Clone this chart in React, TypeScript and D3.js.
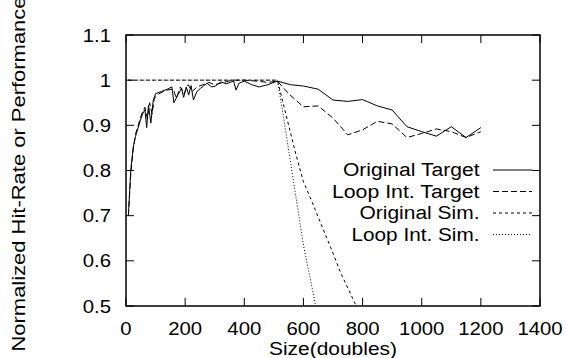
import * as d3 from 'd3';

// sizes (doubles) and normalized values
const origTargetX = [8, 16, 24, 32, 48, 56, 64, 70, 76, 84, 92, 100, 120, 140, 155, 162, 176, 188, 195, 204, 212, 220, 228, 240, 252, 274, 290, 302, 320, 340, 364, 372, 382, 400, 425, 450, 480, 512, 556, 600, 650, 700, 750, 800, 850, 900, 950, 1000, 1050, 1100, 1150, 1200];
const origTargetY = [0.70, 0.80, 0.85, 0.875, 0.91, 0.925, 0.935, 0.895, 0.945, 0.905, 0.955, 0.97, 0.975, 0.98, 0.985, 0.95, 0.968, 0.982, 0.962, 0.985, 0.967, 0.988, 0.956, 0.975, 0.982, 0.993, 0.985, 0.987, 0.996, 0.992, 0.998, 0.978, 0.993, 0.998, 0.99, 0.985, 0.99, 0.998, 0.99, 0.987, 0.98, 0.956, 0.953, 0.957, 0.943, 0.934, 0.897, 0.886, 0.876, 0.897, 0.873, 0.895];

const loopTargetX = [8, 16, 24, 32, 48, 56, 64, 72, 80, 88, 96, 112, 136, 160, 170, 184, 196, 210, 224, 240, 260, 280, 300, 330, 360, 400, 440, 480, 512, 550, 600, 650, 700, 750, 800, 850, 900, 950, 1000, 1050, 1100, 1150, 1200];
const loopTargetY = [0.70, 0.79, 0.845, 0.88, 0.915, 0.93, 0.94, 0.915, 0.95, 0.925, 0.96, 0.97, 0.978, 0.98, 0.96, 0.985, 0.97, 0.99, 0.975, 0.985, 0.99, 0.995, 0.99, 0.995, 1.0, 1.0, 0.998, 0.995, 0.998, 0.97, 0.941, 0.943, 0.916, 0.879, 0.89, 0.909, 0.903, 0.873, 0.882, 0.892, 0.886, 0.873, 0.886];

const origSimX = [8, 128, 256, 384, 512, 550, 575, 600, 625, 650, 675, 700, 725, 750, 775, 800];
const origSimY = [1.0, 1.0, 1.0, 1.0, 1.0, 0.9, 0.835, 0.775, 0.737, 0.697, 0.657, 0.617, 0.575, 0.54, 0.505, 0.47];

const loopSimX = [8, 128, 256, 384, 512, 530, 550, 575, 600, 625, 650];
const loopSimY = [1.0, 1.0, 1.0, 1.0, 1.0, 0.93, 0.845, 0.74, 0.635, 0.555, 0.47];

const xTicks = [0, 200, 400, 600, 800, 1000, 1200, 1400];
const yTicks = [0.5, 0.6, 0.7, 0.8, 0.9, 1.0, 1.1];

const seriesNames = ['Original Target', 'Loop Int. Target', 'Original Sim.', 'Loop Int. Sim.'];
const seriesDash = ['none', '6,3', '3,3', '1,2'];
const legendWidths = [136.6, 147.6, 120, 128];

const font = '"Liberation Sans", Arial, Helvetica, sans-serif';
const stretch = 1.13;

export default function App() {
  const width = 566;
  const height = 358;
  const left = 126, right = 540, top = 35, bottom = 306;

  const x = d3.scaleLinear().domain([0, 1400]).range([left, right]);
  const y = d3.scaleLinear().domain([0.5, 1.1]).range([bottom, top]);

  const line = d3.line<[number, number]>().x(d => x(d[0])).y(d => y(d[1]));
  const series = [
    d3.zip(origTargetX, origTargetY) as [number, number][],
    d3.zip(loopTargetX, loopTargetY) as [number, number][],
    d3.zip(origSimX, origSimY) as [number, number][],
    d3.zip(loopSimX, loopSimY) as [number, number][],
  ];

  const tick = 8;

  return (
    <svg width={width} height={height} style={{ position: 'absolute', left: 0, top: 0, background: '#fff' }} fontFamily={font}>
      <defs>
        <clipPath id="plot">
          <rect x={left} y={top} width={right - left} height={bottom - top} />
        </clipPath>
      </defs>

      {/* ticks, mirrored on all sides */}
      {xTicks.map(t => (
        <g key={'xt' + t} stroke="#000" strokeWidth={1}>
          <line x1={x(t)} x2={x(t)} y1={bottom} y2={bottom - tick} />
          <line x1={x(t)} x2={x(t)} y1={top} y2={top + tick} />
        </g>
      ))}
      {yTicks.map(t => (
        <g key={'yt' + t} stroke="#000" strokeWidth={1}>
          <line x1={left} x2={left + tick} y1={y(t)} y2={y(t)} />
          <line x1={right} x2={right - tick} y1={y(t)} y2={y(t)} />
        </g>
      ))}

      {xTicks.map(t => (
        <text key={'xl' + t} transform={`translate(${x(t)},335) scale(${stretch},1)`} textAnchor="middle" fontSize={18}>{t}</text>
      ))}
      {yTicks.map(t => (
        <text key={'yl' + t} transform={`translate(111,${y(t) + 6.5}) scale(${stretch},1)`} textAnchor="end" fontSize={18}>{d3.format('~g')(t)}</text>
      ))}

      <text x={333} y={355} textAnchor="middle" fontSize={17.5} textLength={128} lengthAdjust="spacingAndGlyphs">Size(doubles)</text>
      <text transform="translate(25,174) rotate(-90)" textAnchor="middle" fontSize={18} textLength={355} lengthAdjust="spacingAndGlyphs">Normalized Hit-Rate or Performance</text>

      <g clipPath="url(#plot)" fill="none" stroke="#000" strokeWidth={1}>
        {series.map((s, i) => (
          <path key={i} d={line(s) || ''} strokeDasharray={seriesDash[i]} />
        ))}
      </g>

      {seriesNames.map((name, i) => {
        const ly = 170 + i * 21.5;
        return (
          <g key={name}>
            <text x={479.5} y={ly + 6} textAnchor="end" fontSize={18} textLength={legendWidths[i]} lengthAdjust="spacingAndGlyphs">{name}</text>
            <line x1={493} x2={532} y1={ly} y2={ly} stroke="#000" strokeWidth={1} strokeDasharray={seriesDash[i]} />
          </g>
        );
      })}

      <rect x={left} y={top} width={right - left} height={bottom - top} fill="none" stroke="#000" strokeWidth={1.5} />
    </svg>
  );
}
